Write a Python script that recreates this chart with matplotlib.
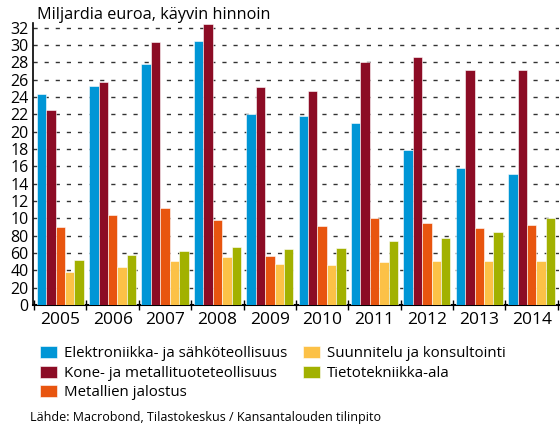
import numpy as np
import matplotlib
matplotlib.use("Agg")
from matplotlib import pyplot as plt

plt.rcParams['font.family'] = ['Open Sans', 'DejaVu Sans']

years = ['2005', '2006', '2007', '2008', '2009', '2010', '2011', '2012', '2013', '2014']
series_names = ['Elektroniikka- ja sähköteollisuus',
                'Kone- ja metallituoteteollisuus',
                'Metallien jalostus',
                'Suunnitelu ja konsultointi',
                'Tietotekniikka-ala']
elektroniikka = [24.4, 25.3, 27.8, 30.5, 22.1, 21.8, 21.0, 17.9, 15.8, 15.1]
kone = [22.5, 25.75, 30.4, 32.4, 25.2, 24.7, 28.1, 28.6, 27.1, 27.1]
metallien = [9.0, 10.4, 11.2, 9.85, 5.7, 9.15, 10.1, 9.45, 8.9, 9.25]
suunnitelu = [3.85, 4.4, 5.05, 5.55, 4.7, 4.65, 4.95, 5.1, 5.1, 5.1]
tietotekniikka = [5.2, 5.8, 6.25, 6.75, 6.45, 6.55, 7.35, 7.8, 8.45, 10.1]
ytick_values = list(range(0, 33, 2))
ytick_labels = ['0', '20', '40', '60', '80', '10', '12', '14', '16', '18',
                '20', '22', '24', '26', '28', '30', '32']

colors = ['#0096d6', '#8c0c25', '#e8550f', '#fcc147', '#a2b100']
data = [elektroniikka, kone, metallien, suunnitelu, tietotekniikka]

fig = plt.figure(figsize=(5.6, 4.25), dpi=100)
ax = fig.add_axes([0.059, 0.282, 0.94, 0.665])

x = np.arange(len(years))
w = 0.18
for i, (vals, c, name) in enumerate(zip(data, colors, series_names)):
    ax.bar(x + (i - 2) * w, vals, w, color=c, label=name,
           edgecolor='white', linewidth=0.4, zorder=3)

ax.set_xlim(-0.52, len(years) - 0.47)
ax.set_ylim(0, 32.6)
ax.set_yticks(ytick_values)
ax.set_yticklabels(ytick_labels)
ax.set_xticks(x)
ax.set_xticklabels(years)
ax.set_xticks(np.arange(-0.5, len(years), 1.0), minor=True)
ax.tick_params(axis='x', which='major', length=0, labelsize=12.5, pad=5)
ax.tick_params(axis='x', which='minor', direction='inout', length=7, width=1)
ax.tick_params(axis='y', length=0, labelsize=11.5, pad=3)

ax.grid(axis='y', color='#333333', linestyle=(0, (3, 5)), linewidth=1, zorder=0)
for s in ['top', 'right']:
    ax.spines[s].set_visible(False)
ax.spines['left'].set_linewidth(1.2)
ax.spines['bottom'].set_linewidth(1.5)

fig.text(0.066, 0.964, 'Miljardia euroa, käyvin hinnoin', fontsize=11.7, va='center')

fig.legend(loc='upper left', bbox_to_anchor=(0.072, 0.186), ncol=2, frameon=False,
           fontsize=10.8, handlelength=1.1, handleheight=0.85, handletextpad=0.45,
           labelspacing=0.3, columnspacing=1.1, borderpad=0, borderaxespad=0)

fig.text(0.054, 0.017, 'Lähde: Macrobond, Tilastokeskus / Kansantalouden tilinpito',
         fontsize=9, va='center')

fig.savefig('out.png', dpi=100)
